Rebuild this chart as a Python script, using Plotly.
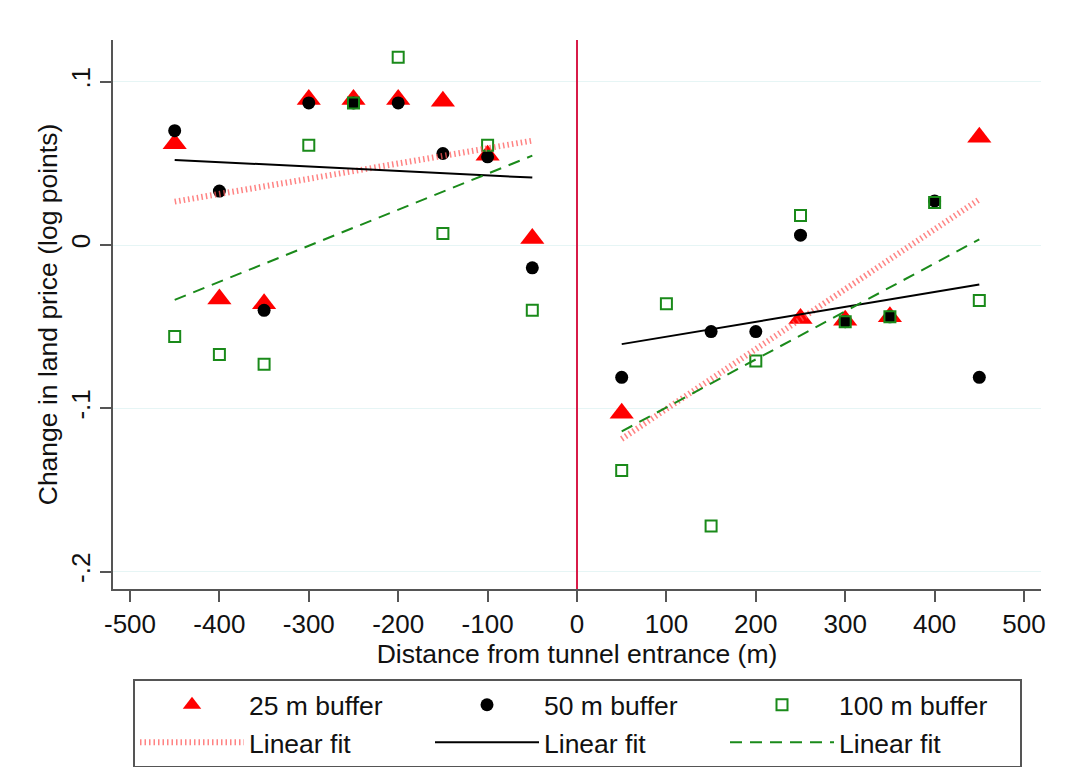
import numpy as np
import plotly.graph_objects as go

# ---- data ----
x_left = [-450, -400, -350, -300, -250, -200, -150, -100, -50]
x_right = [50, 100, 150, 200, 250, 300, 350, 400, 450]

# 25 m buffer
b25_x = x_left + [50, 250, 300, 350, 450]
b25_y = [0.062, -0.033, -0.036, 0.089, 0.089, 0.089, 0.088, 0.055, 0.004,
         -0.103, -0.045, -0.046, -0.044, 0.066]

# 50 m buffer
b50_x = x_left + [50, 150, 200, 250, 300, 350, 400, 450]
b50_y = [0.070, 0.033, -0.040, 0.087, 0.087, 0.087, 0.056, 0.054, -0.014,
         -0.081, -0.053, -0.053, 0.006, -0.047, -0.044, 0.027, -0.081]

# 100 m buffer
b100_x = x_left + x_right
b100_y = [-0.056, -0.067, -0.073, 0.061, 0.087, 0.115, 0.007, 0.061, -0.040,
          -0.138, -0.036, -0.172, -0.071, 0.018, -0.047, -0.044, 0.026, -0.034]

x_ticks = [-500, -400, -300, -200, -100, 0, 100, 200, 300, 400, 500]
x_ticktext = ["-500", "-400", "-300", "-200", "-100", "0", "100", "200", "300", "400", "500"]
y_ticks = [-0.2, -0.1, 0, 0.1]
y_ticktext = ["-.2", "-.1", "0", ".1"]
cutoff = 0

FONT = "Liberation Sans, Arial, Helvetica, sans-serif"
RED = "#ff0000"
GREEN = "#1a8a1a"
FITRED = "rgba(255,90,90,0.75)"
TXT = "#111111"
AX = "#555555"


def side_fit(xs, ys):
    """Linear fit on each side of the cutoff, returned as one gapped line."""
    xs = np.asarray(xs, float)
    ys = np.asarray(ys, float)
    out_x, out_y = [], []
    for mask in (xs < cutoff, xs > cutoff):
        sx, sy = xs[mask], ys[mask]
        b, a = np.polyfit(sx, sy, 1)
        lx = np.array([sx.min(), sx.max()])
        out_x += list(lx) + [None]
        out_y += list(a + b * lx) + [None]
    return out_x[:-1], out_y[:-1]


fig = go.Figure()

fig.add_trace(go.Scatter(
    x=b25_x, y=b25_y, mode="markers", name="25 m buffer",
    marker=dict(symbol="triangle-up", size=21, color=RED, line=dict(width=0))))
fig.add_trace(go.Scatter(
    x=b50_x, y=b50_y, mode="markers", name="50 m buffer",
    marker=dict(symbol="circle", size=13, color="black", line=dict(width=0))))
fig.add_trace(go.Scatter(
    x=b100_x, y=b100_y, mode="markers", name="100 m buffer",
    marker=dict(symbol="square-open", size=11, color=GREEN, line=dict(width=2, color=GREEN))))

fx, fy = side_fit(b25_x, b25_y)
fig.add_trace(go.Scatter(x=fx, y=fy, mode="lines", name="Linear fit",
                         line=dict(color=FITRED, width=6, dash="1.5px,3px")))
fx, fy = side_fit(b50_x, b50_y)
fig.add_trace(go.Scatter(x=fx, y=fy, mode="lines", name="Linear fit",
                         line=dict(color="black", width=2)))
fx, fy = side_fit(b100_x, b100_y)
fig.add_trace(go.Scatter(x=fx, y=fy, mode="lines", name="Linear fit",
                         line=dict(color=GREEN, width=2, dash="12px,8px")))

# vertical reference line at the tunnel entrance
fig.add_vline(x=cutoff, line=dict(color="#d81b48", width=2), layer="above")

fig.update_layout(
    width=1067, height=767,
    margin=dict(l=113, r=26, t=40, b=178),
    paper_bgcolor="white", plot_bgcolor="white",
    font=dict(family=FONT, size=26, color=TXT),
    showlegend=True,
    legend=dict(
        orientation="h", xref="container", yref="container",
        x=133 / 1067, y=(767 - 679) / 767, xanchor="left", yanchor="top",
        bordercolor=AX, borderwidth=2, bgcolor="white",
        itemwidth=104, entrywidth=176, entrywidthmode="pixels",
        font=dict(family=FONT, size=26.5, color=TXT),
        traceorder="normal",
    ),
    xaxis=dict(
        range=[-519, 519], tickvals=x_ticks, ticktext=x_ticktext,
        showgrid=False, zeroline=False,
        showline=True, linecolor=AX, linewidth=2,
        ticks="outside", ticklen=11, tickwidth=2, tickcolor=AX,
        tickfont=dict(family=FONT, size=26, color=TXT),
        title=dict(text="Distance from tunnel entrance (m)", standoff=4,
                   font=dict(family=FONT, size=26.5, color=TXT)),
    ),
    yaxis=dict(
        range=[-0.2106, 0.1255], tickvals=y_ticks, ticktext=y_ticktext,
        tickangle=-90, showgrid=True, gridcolor="#e6f5f5", gridwidth=1,
        zeroline=False, showline=True, linecolor=AX, linewidth=2,
        ticks="outside", ticklen=11, tickwidth=2, tickcolor=AX,
        tickfont=dict(family=FONT, size=26, color=TXT),
        title=dict(text="Change in land price (log points)", standoff=0,
                   font=dict(family=FONT, size=26.5, color=TXT)),
    ),
)

fig.write_html("out.html", config={"displayModeBar": False},
               post_script="document.body.style.margin='0px';")
